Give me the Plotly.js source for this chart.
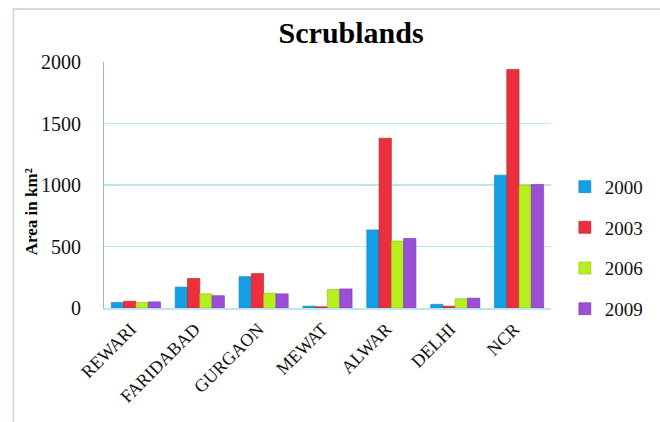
<!DOCTYPE html>
<html>
<head>
<meta charset="utf-8">
<script src="https://cdn.plot.ly/plotly-3.0.1.min.js"></script>
<style>html,body{margin:0;padding:0;background:#fff;}#chart{width:660px;height:422px;}</style>
</head>
<body>
<div id="chart"></div>
<script>
var categories = ["REWARI", "FARIDABAD", "GURGAON", "MEWAT", "ALWAR", "DELHI", "NCR"];
var seriesNames = ["2000", "2003", "2006", "2009"];
var v2000 = [45, 170, 255, 15, 635, 30, 1080];
var v2003 = [55, 240, 280, 10, 1380, 15, 1940];
var v2006 = [45, 115, 120, 150, 545, 75, 1000];
var v2009 = [50, 100, 115, 155, 565, 80, 1005];
var yTicks = [0, 500, 1000, 1500, 2000];

var colors = ["#159fe6", "#ec2f3c", "#b6ee1e", "#9b4fd6"];
var lines = ["#0f7fc0", "#b81e28", "#8cc010", "#7636ac"];
var allVals = [v2000, v2003, v2006, v2009];

var serif = "'Liberation Serif', 'Times New Roman', serif";
var traces = allVals.map(function (vals, i) {
  return {
    type: "bar",
    name: seriesNames[i],
    x: categories,
    y: vals,
    legendgroup: "g" + i,
    marker: { color: colors[i], line: { color: lines[i], width: 0.6 } }
  };
});

var layout = {
  width: 660,
  height: 422,
  margin: { l: 104, r: 102, t: 62, b: 114 },
  paper_bgcolor: "#ffffff",
  plot_bgcolor: "#ffffff",
  barmode: "group",
  bargap: 0.23,
  bargroupgap: 0,
  title: {
    text: "<b>Scrublands</b>",
    font: { family: serif, size: 30, color: "#000" },
    x: 0.532, xanchor: "center",
    y: 0.924, yanchor: "middle"
  },
  xaxis: {
    type: "category",
    tickangle: -45,
    tickfont: { family: serif, size: 18, color: "#111" },
    ticklabelstandoff: 2,
    ticklabelshift: -5,
    showline: true,
    linecolor: "#bfe6ee",
    linewidth: 1.5,
    showgrid: false,
    ticks: ""
  },
  yaxis: {
    range: [0, 2000],
    tickvals: yTicks,
    ticktext: yTicks.map(String),
    tickfont: { family: serif, size: 20, color: "#111" },
    ticklabelstandoff: 18,
    showline: true,
    linecolor: "#a8b4b8",
    linewidth: 1,
    showgrid: true,
    gridcolor: "#b8e8f0",
    gridwidth: 1.2,
    zeroline: false,
    ticks: ""
  },
  showlegend: true,
  legend: {
    x: 1.031, xanchor: "left",
    y: 0.57, yanchor: "top",
    font: { family: serif, size: 19, color: "#111" },
    tracegroupgap: 13,
    itemwidth: 30,
    bgcolor: "rgba(0,0,0,0)"
  },
  annotations: [{
    text: "<b>Area in km²</b>",
    textangle: -90,
    xref: "paper", yref: "paper",
    x: -0.163, y: 0.39,
    xanchor: "center", yanchor: "middle",
    showarrow: false,
    font: { family: serif, size: 17, color: "#000" }
  }],
  shapes: [{
    type: "rect",
    xref: "paper", yref: "paper",
    x0: -0.2026, x1: 1.26, y0: -0.5, y1: 1.2154,
    line: { color: "#c4d4d8", width: 1.5 },
    fillcolor: "rgba(0,0,0,0)",
    layer: "below"
  }]
};

Plotly.newPlot("chart", traces, layout, { displayModeBar: false, staticPlot: true });
</script>
</body>
</html>
